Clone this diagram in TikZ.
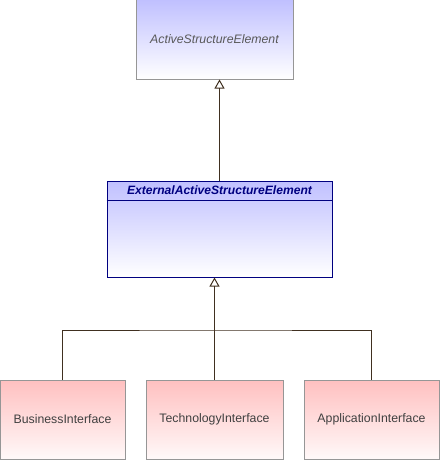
\documentclass[tikz,border=0pt]{standalone}
\usepackage{fontspec}
\setmainfont{Liberation Sans}
\usetikzlibrary{arrows.meta}

\definecolor{linebrown}{RGB}{64,48,32}
\definecolor{boxgray}{RGB}{150,150,150}
\definecolor{navy}{RGB}{0,0,128}
\definecolor{lilac}{RGB}{192,192,255}
\definecolor{rose}{RGB}{255,192,192}

\tikzset{
    element/.style={rectangle, draw=boxgray, line width=1pt, top color=lilac, bottom color=white, inner sep=0pt, font=\fontsize{12.3}{14}\selectfont},
    iface/.style={element, top color=rose, bottom color=rose!10, text=black!75, minimum height=79pt},
    generalize/.style={draw=linebrown, line width=1pt, -{Triangle[open, length=9pt, width=10pt, line width=1pt]}}
}

\begin{document}
\begin{tikzpicture}[x=1pt, y=-1pt]
    \useasboundingbox (0,0) rectangle (440,460);

    % Active structure element
    \node[element, minimum width=157pt, minimum height=79pt, text=black!65, font=\fontsize{12.3}{14}\selectfont\itshape] (active) at (214.5,39.5) {ActiveStructureElement};

    % External active structure element
    \node[element, draw=navy, minimum width=225pt, minimum height=96pt] (external) at (219.5,229) {};
    \draw[navy, line width=1pt] ([yshift=-20pt]external.north west) -- ([yshift=-20pt]external.north east);
    \node[text=navy, font=\fontsize{12.1}{14}\selectfont\bfseries\itshape] (externalname) at ([yshift=-10pt]external.north) {ExternalActiveStructureElement};

    % Interfaces
    \node[iface, minimum width=125pt] (business) at (62.5,419.5) {BusinessInterface};
    \node[iface, minimum width=137pt] (technology) at (214.5,419.5) {TechnologyInterface};
    \node[iface, minimum width=135pt] (application) at (371.5,419.5) {ApplicationInterface};

    % Generalizations
    \draw[generalize] (external.north) -- (external.north |- active.south);
    \coordinate (join) at (214.5,330);
    \draw[draw=linebrown, line width=1pt] (business.north) |- (join) -| (application.north);
    \draw[draw=linebrown, line width=1pt] (technology.north) -- (join);
    \draw[generalize] (join) -- (join |- external.south);
\end{tikzpicture}
\end{document}
